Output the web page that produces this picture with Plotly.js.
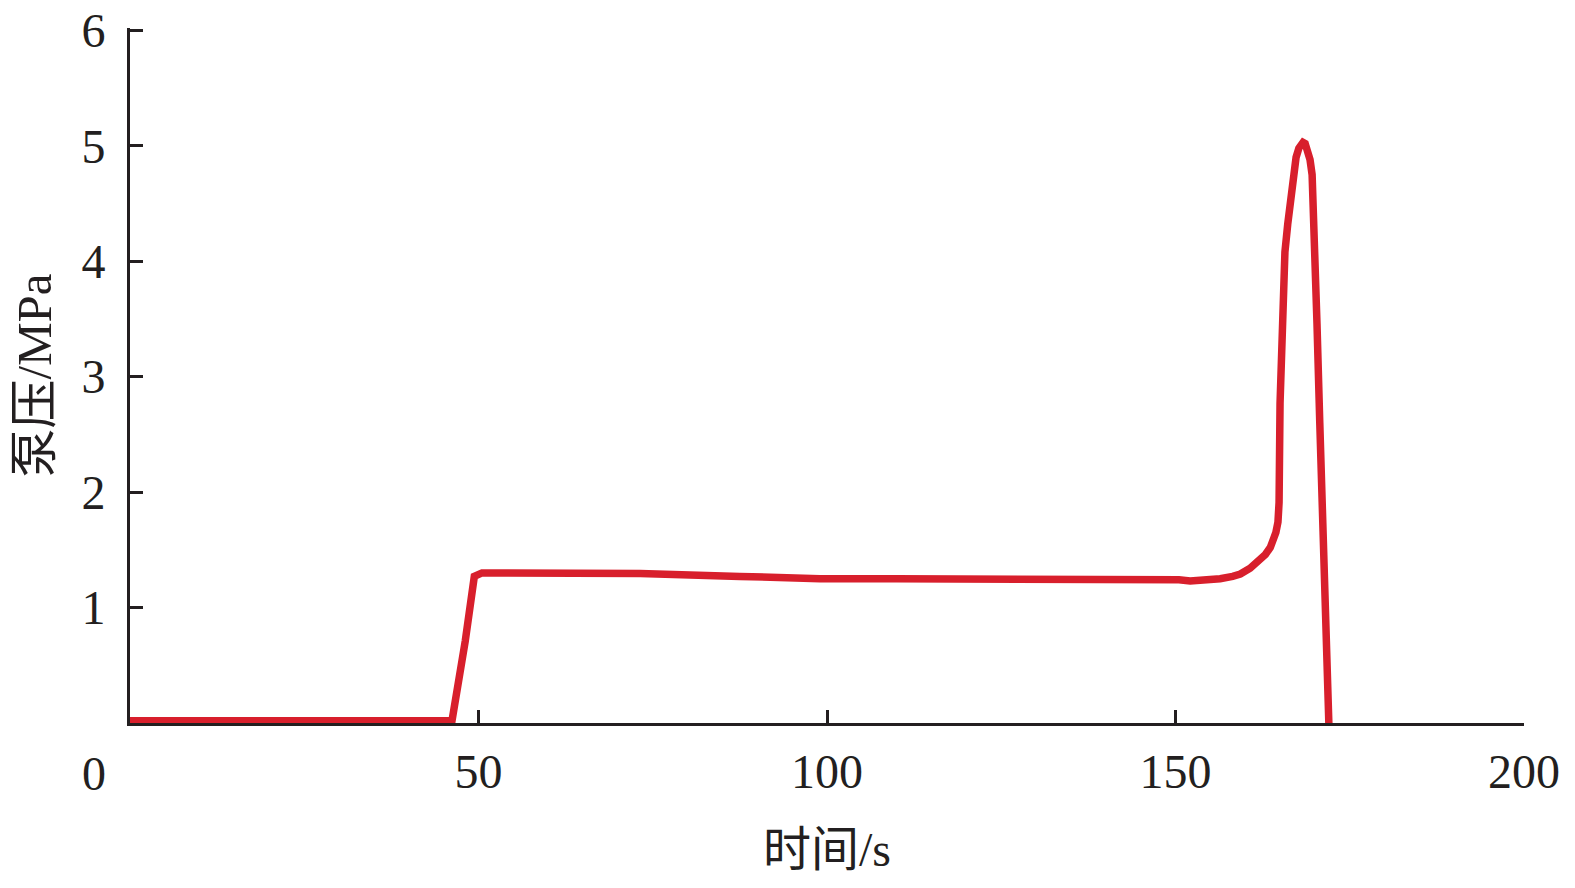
<!DOCTYPE html>
<html>
<head>
<meta charset="utf-8">
<script src="https://cdn.plot.ly/plotly-3.0.1.min.js"></script>
<style>html,body{margin:0;padding:0;background:#fff;}#chart{width:1575px;height:888px;}</style>
</head>
<body>
<div id="chart"></div>
<script>
// time (s)
const timeS = [0, 10, 20, 30, 40, 46.2, 48.1, 48.9, 49.4, 50.5, 53.1, 61.7, 73.2, 87.5, 99, 110, 120, 130, 140, 147.8, 150.5, 152.1, 154.5, 156.4, 158.2, 159.3, 160.7, 161.9, 162.9, 163.6, 164.0, 164.4, 164.7, 164.86, 165.0, 165.3, 165.45, 165.7, 166.1, 166.5, 166.9, 167.3, 167.7, 168.0, 168.3, 168.6, 168.9, 169.3, 169.6, 169.9, 170.2, 170.3, 170.7, 171.0, 171.5, 171.9, 172.0];
// pump pressure (MPa)
const pressure = [0.02, 0.02, 0.02, 0.02, 0.02, 0.02, 0.71, 1.12, 1.27, 1.30, 1.30, 1.295, 1.295, 1.27, 1.25, 1.25, 1.25, 1.25, 1.25, 1.25, 1.24, 1.23, 1.235, 1.25, 1.27, 1.29, 1.34, 1.40, 1.46, 1.52, 1.57, 1.65, 1.74, 1.91, 2.77, 3.46, 3.80, 4.08, 4.32, 4.55, 4.75, 4.90, 4.98, 5.02, 5.03, 5.02, 4.97, 4.88, 4.75, 4.32, 3.89, 3.46, 2.60, 1.91, 1.05, 0.19, 0.0];
const xTicks = [50, 100, 150, 200];
const yTicks = [1, 2, 3, 4, 5, 6];
const xTitle = '时间/s';
const yTitle = '泵压/MPa';
const cornerLabel = '0';

const fontFam = 'Liberation Serif, Times New Roman, Noto Sans CJK SC, serif';

const trace = {
  x: timeS, y: pressure, type: 'scatter', mode: 'lines',
  line: {color: '#d81f2c', width: 7.5},
  hoverinfo: 'skip'
};

const layout = {
  width: 1575, height: 888,
  margin: {l: 130, r: 51, t: 28, b: 165},
  paper_bgcolor: '#fff', plot_bgcolor: '#fff',
  showlegend: false,
  font: {family: fontFam, color: '#231f20', size: 48},
  xaxis: {
    range: [0, 200], tickvals: xTicks, ticktext: xTicks.map(String),
    ticks: 'inside', ticklen: 13, tickwidth: 3, tickcolor: '#231f20',
    showline: true, linewidth: 3, linecolor: '#231f20',
    showgrid: false, zeroline: false, fixedrange: true,
    ticklabelstandoff: 4,
    tickfont: {family: fontFam, size: 48, color: '#231f20'},
    title: {text: xTitle, font: {family: fontFam, size: 48, color: '#231f20'}, standoff: 36}
  },
  yaxis: {
    range: [0, 6.02], tickvals: yTicks, ticktext: yTicks.map(String),
    ticks: 'inside', ticklen: 13, tickwidth: 3, tickcolor: '#231f20',
    showline: true, linewidth: 3, linecolor: '#231f20',
    showgrid: false, zeroline: false, fixedrange: true,
    ticklabelstandoff: 12, ticklabeloverflow: 'allow',
    tickfont: {family: fontFam, size: 48, color: '#231f20'},
    title: {text: yTitle, font: {family: fontFam, size: 49, color: '#231f20'}, standoff: 15}
  },
  annotations: [{
    text: cornerLabel, xref: 'x', yref: 'y', x: 0, y: 0,
    xanchor: 'center', yanchor: 'middle', xshift: -36, yshift: -50,
    showarrow: false, font: {family: fontFam, size: 48, color: '#231f20'}
  }]
};

Plotly.newPlot('chart', [trace], layout, {displayModeBar: false, staticPlot: true});
</script>
</body>
</html>
